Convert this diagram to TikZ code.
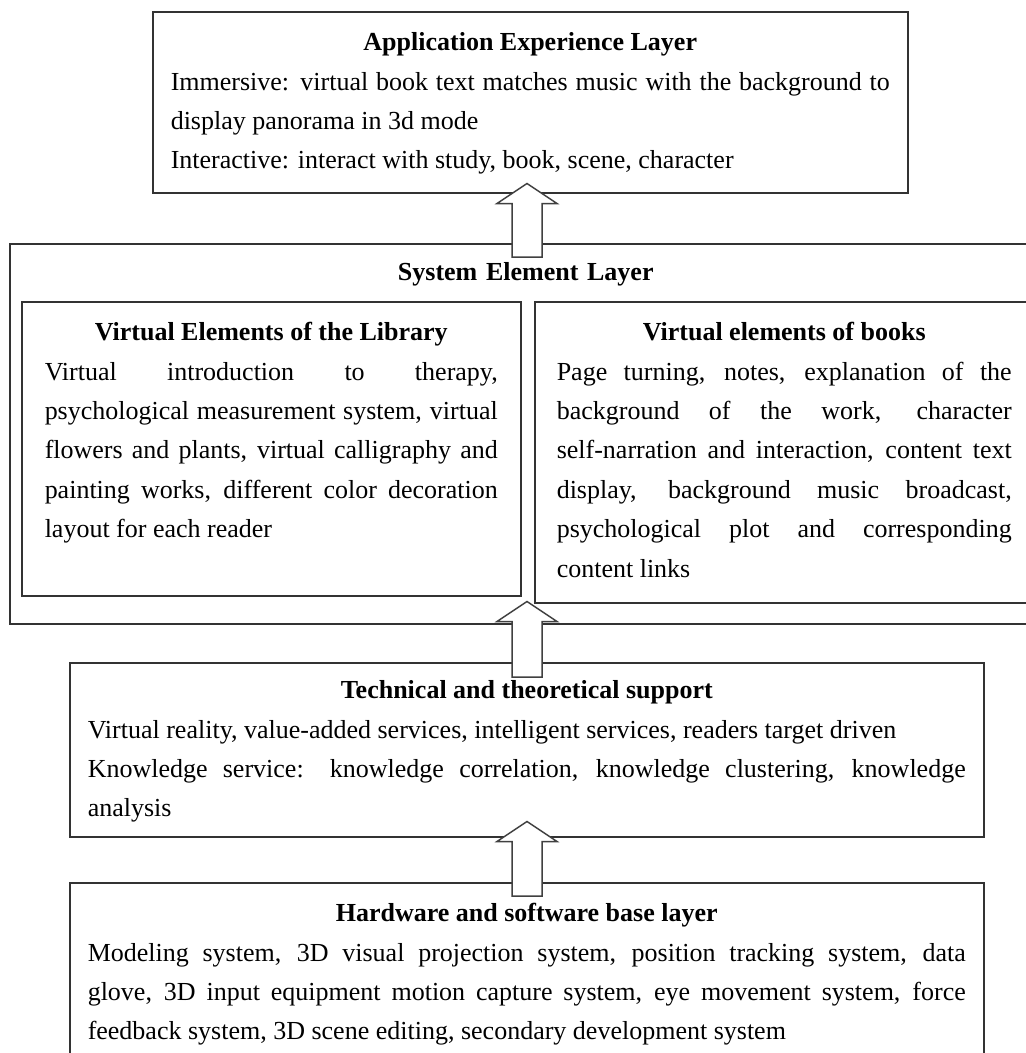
\documentclass[tikz,border=0pt]{standalone}
\usepackage{fontspec}
\setmainfont{Liberation Serif}
\usetikzlibrary{calc}
\tolerance=10000
\hyphenpenalty=10000
\exhyphenpenalty=10000
\newcommand{\boxtitle}[1]{{\centering\bfseries #1\par}}
\begin{document}
\begin{tikzpicture}[x=1pt,y=1pt,
    layer/.style={draw=black!80,line width=1.5pt,fill=white,anchor=north west,
      font=\fontsize{26}{39.4}\selectfont,align=justify,text height=20pt,inner ysep=19pt},
    blockarrow/.style={draw=black!75,line width=1.5pt,fill=white,line join=miter}]
    \useasboundingbox (0,0) rectangle (1026,-1053);
    \clip (0,0) rectangle (1026,-1053);

    \node[layer,text width=719pt,inner xsep=18pt,text depth=123pt] (app) at (152,-11)
      {\boxtitle{Application Experience Layer}Immersive: virtual book text matches music with the background to\linebreak
       display panorama in 3d mode\par
       Interactive: interact with study, book, scene, character};

    \node[layer,text width=1000pt,inner xsep=16pt,inner ysep=17pt,text depth=326pt,align=center] (sys) at (9,-243)
      {\bfseries System Element Layer};

    \node[layer,text width=453pt,inner xsep=23pt,text depth=236pt] (lib) at (21,-301)
      {\boxtitle{Virtual Elements of the Library}Virtual introduction to therapy,\linebreak
       psychological measurement system, virtual\linebreak
       flowers and plants, virtual calligraphy and\linebreak
       painting works, different color decoration\linebreak
       layout for each reader};

    \node[layer,text width=455pt,inner xsep=22pt,text depth=243pt] (books) at (534,-301)
      {\boxtitle{Virtual elements of books}Page turning, notes, explanation of the\linebreak
       background of the work, character\linebreak
       self-narration and interaction, content text\linebreak
       display, background music broadcast,\linebreak
       psychological plot and corresponding\linebreak
       content links};

    \node[layer,text width=878pt,inner xsep=18pt,inner ysep=16pt,text depth=122pt] (tech) at (69,-662)
      {\boxtitle{Technical and theoretical support}Virtual reality, value-added services, intelligent services, readers target driven\par
       Knowledge service: knowledge correlation, knowledge clustering, knowledge\linebreak
       analysis};

    \node[layer,text width=878pt,inner xsep=18pt,text depth=130pt] (base) at (69,-882)
      {\boxtitle{Hardware and software base layer}Modeling system, 3D visual projection system, position tracking system, data\linebreak
       glove, 3D input equipment motion capture system, eye movement system, force\linebreak
       feedback system, 3D scene editing, secondary development system};

    % hollow block arrows between the layers
    \coordinate (axis) at (527,0);
    \coordinate (up1tail) at ($(axis |- sys.north)+(0,-14)$);
    \coordinate (up1tip) at ($(axis |- app.south)+(0,10)$);
    \coordinate (up2tail) at ($(axis |- tech.north)+(0,-15)$);
    \coordinate (up2tip) at ($(axis |- books.south)+(0,2)$);
    \coordinate (up3tail) at ($(axis |- base.north)+(0,-14)$);
    \coordinate (up3tip) at ($(axis |- tech.south)+(0,16)$);
    \foreach \atail/\atip in {up1tail/up1tip,up2tail/up2tip,up3tail/up3tip}
      \draw[blockarrow] ($(\atail)+(-15,0)$) -- ($(\atip)+(-15,-20)$) -- ($(\atip)+(-30,-20)$) -- (\atip)
        -- ($(\atip)+(30,-20)$) -- ($(\atip)+(15,-20)$) -- ($(\atail)+(15,0)$) -- cycle;
\end{tikzpicture}
\end{document}
